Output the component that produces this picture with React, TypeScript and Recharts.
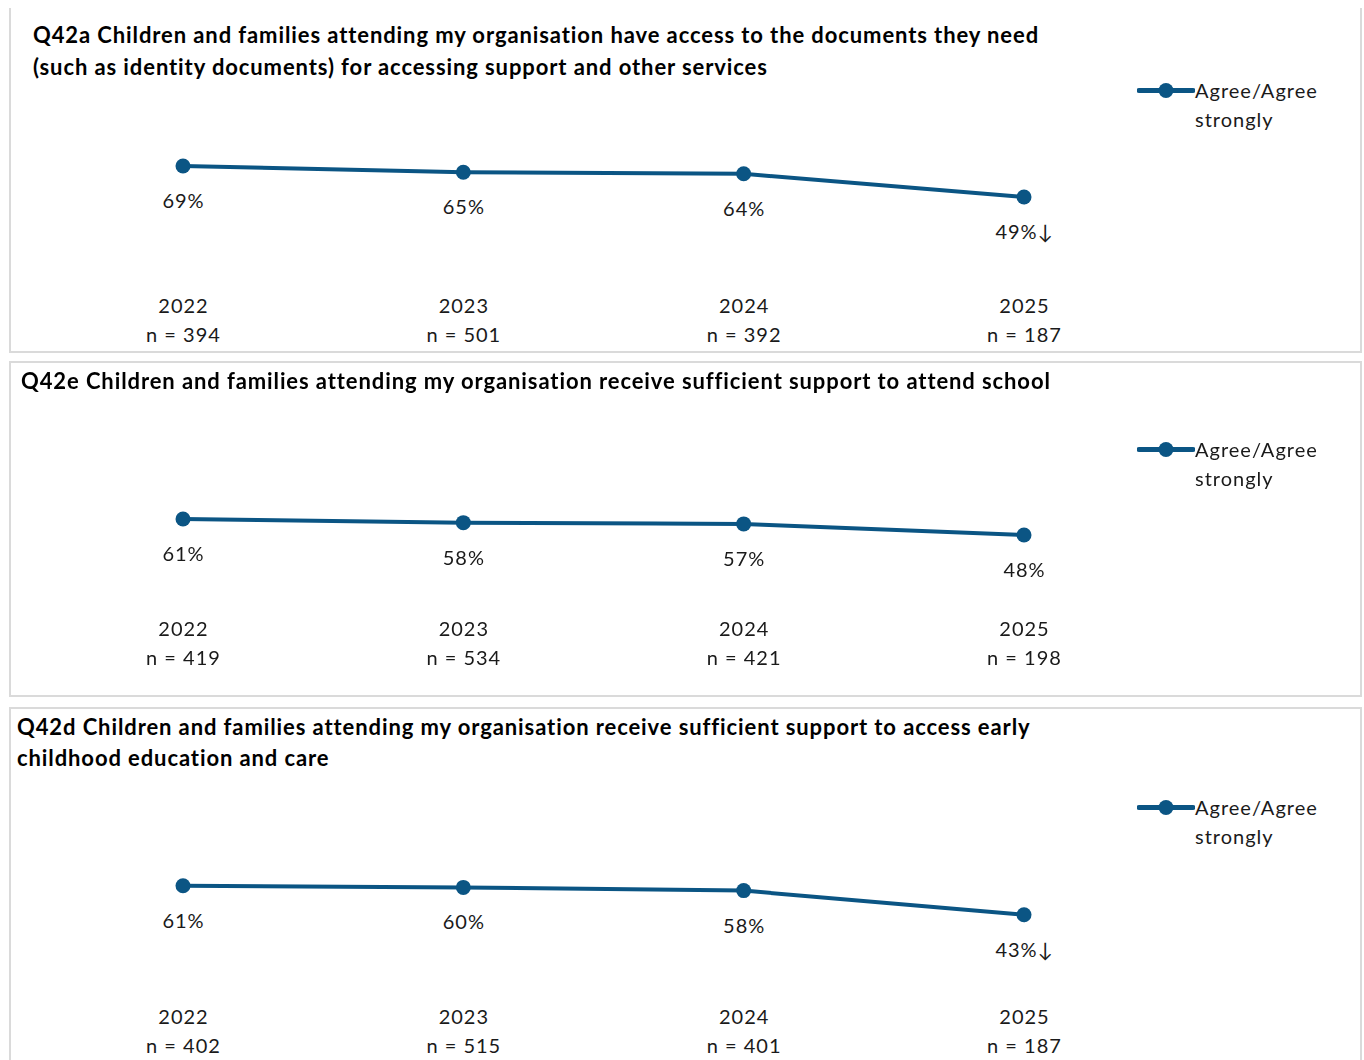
import React from 'react';
import { LineChart, Line, XAxis, YAxis, Legend } from 'recharts';

const years = ['2022', '2023', '2024', '2025'];

const docsValues = [69, 65, 64, 49];
const docsN = [394, 501, 392, 187];
const docsSig = [false, false, false, true];

const schoolValues = [61, 58, 57, 48];
const schoolN = [419, 534, 421, 198];
const schoolSig = [false, false, false, false];

const ececValues = [61, 60, 58, 43];
const ececN = [402, 515, 401, 187];
const ececSig = [false, false, false, true];

const seriesName = 'Agree/Agree strongly';

const docsTitle = [
  'Q42a Children and families attending my organisation have access to the documents they need',
  '(such as identity documents) for accessing support and other services',
];
const schoolTitle = [
  'Q42e Children and families attending my organisation receive sufficient support to attend school',
];
const ececTitle = [
  'Q42d Children and families attending my organisation receive sufficient support to access early',
  'childhood education and care',
];

const COLOR = '#0B5584';
const TEXT = '#1a1a1a';
const FONT = 'Lato, "Open Sans", sans-serif';
const LS = 1;

type PanelCfg = {
  title: string[];
  values: number[];
  ns: number[];
  sig: boolean[];
  top: number;
  height: number;
  plotTop: number;
  axisHeight: number;
  titleLeft: number;
  titleTop: number;
  legendTop: number;
  yearDy: number;
  nDy: number;
};

const panels: PanelCfg[] = [
  { title: docsTitle, values: docsValues, ns: docsN, sig: docsSig, top: -2, height: 347, plotTop: 110, axisHeight: 78, titleLeft: 22, titleTop: 11, legendTop: 67.5, yearDy: 32, nDy: 61 },
  { title: schoolTitle, values: schoolValues, ns: schoolN, sig: schoolSig, top: 353, height: 336, plotTop: 108, axisHeight: 101, titleLeft: 10, titleTop: 2, legendTop: 71.5, yearDy: 34, nDy: 63 },
  { title: ececTitle, values: ececValues, ns: ececN, sig: ececSig, top: 699, height: 360, plotTop: 114, axisHeight: 81, titleLeft: 6, titleTop: 1.5, legendTop: 83.5, yearDy: 32, nDy: 61 },
];

const YearTick = (props: any) => {
  const { x, y, payload, ns, yearDy, nDy } = props;
  const idx = payload.index;
  const st = { letterSpacing: `${LS}px` };
  return (
    <g>
      <text x={x + LS / 2} y={y + yearDy} textAnchor="middle" dominantBaseline="central" fontSize={20} fill={TEXT} fontFamily={FONT} style={st}>
        {payload.value}
      </text>
      <text x={x + LS / 2} y={y + nDy} textAnchor="middle" dominantBaseline="central" fontSize={20} fill={TEXT} fontFamily={FONT} style={st}>
        {`n = ${ns[idx]}`}
      </text>
    </g>
  );
};

const LegendContent = () => (
  <div style={{ display: 'flex', alignItems: 'flex-start', fontFamily: FONT, fontSize: 20, color: TEXT, lineHeight: '29px', letterSpacing: `${LS}px` }}>
    <svg width={58} height={29} style={{ flex: 'none' }}>
      <line x1={2} y1={14.5} x2={56} y2={14.5} stroke={COLOR} strokeWidth={5} strokeLinecap="round" />
      <circle cx={29} cy={14.5} r={7.5} fill={COLOR} />
    </svg>
    <div style={{ width: 140, marginLeft: 0 }}>{seriesName}</div>
  </div>
);

function Panel({ cfg }: { cfg: PanelCfg }) {
  const data = years.map((y, i) => ({ year: y, value: cfg.values[i], n: cfg.ns[i], sig: cfg.sig[i] }));
  const renderLabel = (p: any) => {
    const { x, y, value, index } = p;
    const s = `${value}%${cfg.sig[index] ? '↓' : ''}`;
    return (
      <text key={`l${index}`} x={x + LS / 2} y={y + 34} textAnchor="middle" dominantBaseline="central" fontSize={20} fill={TEXT} fontFamily={FONT} style={{ letterSpacing: `${LS}px` }}>
        {s}
      </text>
    );
  };
  return (
    <div
      style={{
        position: 'absolute',
        left: 1,
        top: cfg.top,
        width: 1353,
        height: cfg.height,
        border: '2px solid #dadada',
        boxSizing: 'border-box',
        overflow: 'hidden',
        background: '#fff',
      }}
    >
      <LineChart width={1349} height={cfg.height - 4} data={data} margin={{ top: cfg.plotTop, right: 336, left: 172, bottom: 0 }}>
        <XAxis
          dataKey="year"
          axisLine={false}
          tickLine={false}
          tickSize={0}
          tickMargin={0}
          height={cfg.axisHeight}
          interval={0}
          tick={<YearTick ns={cfg.ns} yearDy={cfg.yearDy} nDy={cfg.nDy} />}
        />
        <YAxis hide domain={[0, 100]} />
        <Legend
          layout="horizontal"
          verticalAlign="middle"
          align="center"
          width={210}
          content={<LegendContent />}
          wrapperStyle={{ left: 1126, top: cfg.legendTop, width: 210 }}
        />
        <Line
          type="linear"
          dataKey="value"
          name={seriesName}
          stroke={COLOR}
          strokeWidth={4}
          dot={{ r: 7.5, fill: COLOR, stroke: COLOR, strokeWidth: 0 }}
          activeDot={false}
          label={renderLabel}
          isAnimationActive={false}
        />
      </LineChart>
      <div
        style={{
          position: 'absolute',
          left: cfg.titleLeft,
          top: cfg.titleTop,
          fontFamily: FONT,
          fontWeight: 700,
          fontSize: 22,
          letterSpacing: '0.9px',
          lineHeight: '31.5px',
          color: '#000',
          whiteSpace: 'nowrap',
        }}
      >
        {cfg.title.map((t, i) => (
          <div key={i}>{t}</div>
        ))}
      </div>
    </div>
  );
}

export default function App() {
  return (
    <div style={{ position: 'fixed', left: 8, top: 8, width: 1356, height: 1052, overflow: 'hidden' }}>
      <style>{'html,body{overflow:hidden;margin:0;}'}</style>
      {panels.map((p, i) => (
        <Panel key={i} cfg={p} />
      ))}
    </div>
  );
}
